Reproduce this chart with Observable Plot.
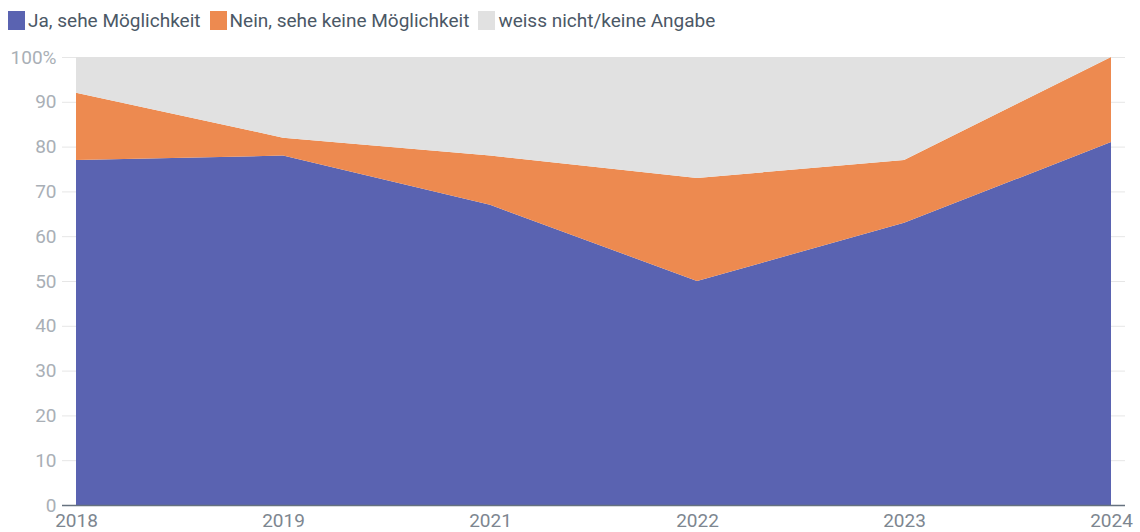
<!DOCTYPE html>
<html>
<head>
<meta charset="utf-8">
<script src="https://cdn.jsdelivr.net/npm/d3@7"></script>
<script src="https://cdn.jsdelivr.net/npm/@observablehq/plot@0.6"></script>
<style>
  html, body { margin: 0; padding: 0; background: #fff; }
  body { width: 1140px; height: 532px; overflow: hidden; font-family: Roboto, "Noto Sans", sans-serif; }
  #legend { height: 40px; display: flex; align-items: center; padding-left: 8px; box-sizing: border-box; font-size: 19px; color: #4b5866; }
  .item { display: flex; align-items: center; margin-right: 9px; }
  .sw { width: 17px; height: 19px; margin-right: 3px; }
  #chart svg { display: block; }
</style>
</head>
<body>
<div id="legend"></div>
<div id="chart"></div>
<script>
const years = ["2018", "2019", "2021", "2022", "2023", "2024"];
const series = ["Ja, sehe Möglichkeit", "Nein, sehe keine Möglichkeit", "weiss nicht/keine Angabe"];
const colors = ["#5a63b1", "#ed8a50", "#e1e1e1"];
const ja = [77, 78, 67, 50, 63, 81];
const nein = [15, 4, 11, 23, 14, 19];
const weissNicht = [8, 18, 22, 27, 23, 0];
const yTicks = [0, 10, 20, 30, 40, 50, 60, 70, 80, 90, 100];

const values = [ja, nein, weissNicht];
const data = [];
series.forEach((s, si) => {
  years.forEach((y, i) => data.push({ idx: i, year: y, series: s, value: values[si][i] }));
});

const legend = document.getElementById("legend");
series.forEach((s, i) => {
  const it = document.createElement("div");
  it.className = "item";
  const sw = document.createElement("div");
  sw.className = "sw";
  sw.style.background = colors[i];
  const t = document.createElement("span");
  t.textContent = s;
  it.appendChild(sw); it.appendChild(t);
  legend.appendChild(it);
});

const chart = Plot.plot({
  width: 1140,
  height: 492,
  marginLeft: 76,
  marginRight: 29,
  marginTop: 17,
  marginBottom: 27,
  style: { fontFamily: "Roboto, 'Noto Sans', sans-serif", fontSize: "19px", background: "#fff", overflow: "visible" },
  x: { type: "linear", domain: [0, years.length - 1], label: null },
  y: { domain: [0, 100], label: null },
  color: { domain: series, range: colors },
  marks: [
    Plot.ruleY(yTicks.filter(d => d > 0), { stroke: "#e6e6e6", strokeWidth: 1, insetLeft: -14, insetRight: -14 }),
    Plot.areaY(data, Plot.stackY({ order: series }, { x: "idx", y: "value", fill: "series", z: "series", curve: "linear" })),
    Plot.ruleY([0], { stroke: "#66727f", strokeWidth: 1.5, insetLeft: -14, insetRight: -14 }),
    Plot.axisY({ ticks: yTicks, tickSize: 0, tickPadding: 20, tickFormat: d => d === 100 ? "100%" : String(d), fill: "#a9afb6", label: null }),
    Plot.axisX({ ticks: d3.range(years.length), tickSize: 0, tickPadding: 8, tickFormat: i => years[i], fill: "#7d8690", label: null })
  ]
});
document.getElementById("chart").appendChild(chart);
</script>
</body>
</html>
